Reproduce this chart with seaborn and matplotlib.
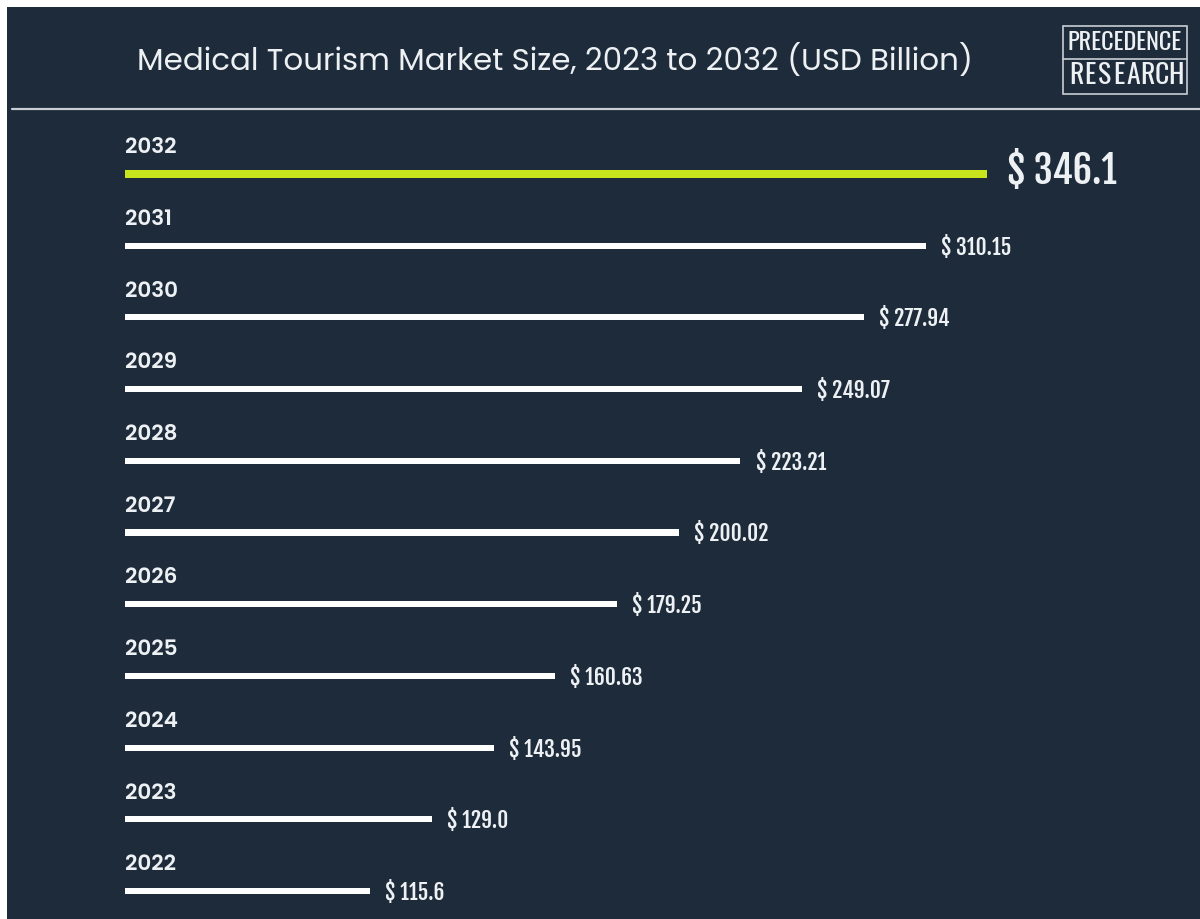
import numpy as np
import pandas as pd
import matplotlib
matplotlib.use("Agg")
import matplotlib.pyplot as plt
from matplotlib.patches import Rectangle
from matplotlib.lines import Line2D
from matplotlib import font_manager as fm
import seaborn as sns

# Market size by year, USD billion (newest first)
years = ["2032", "2031", "2030", "2029", "2028", "2027", "2026", "2025", "2024", "2023", "2022"]
market_size = [346.1, 310.15, 277.94, 249.07, 223.21, 200.02, 179.25, 160.63, 143.95, 129.0, 115.6]
value_labels = ["$ 346.1", "$ 310.15", "$ 277.94", "$ 249.07", "$ 223.21", "$ 200.02",
                "$ 179.25", "$ 160.63", "$ 143.95", "$ 129.0", "$ 115.6"]

title_text = "Medical Tourism Market Size, 2023 to 2032 (USD Billion)"
logo_lines = ["PRECEDENCE", "RESEARCH"]

BG = "#1d2b3b"
ACCENT = "#c8e41c"
TEXT = "#eef1f3"
RULE = "#c9ced4"


def static_font(families, weight, size):
    """Pick a static (non-variable) font file of the wanted weight."""
    for fam in families:
        for f in fm.fontManager.ttflist:
            if (f.name == fam and f.weight == weight and f.style == "normal"
                    and "[" not in f.fname):
                return fm.FontProperties(fname=f.fname, size=size)
    return fm.FontProperties(family="DejaVu Sans", weight=weight, size=size)


title_fp = static_font(["Montserrat", "Poppins", "Raleway"], 400, 22.2)
year_fp = static_font(["Montserrat", "Poppins", "Raleway"], 600, 15.5)
value_fp = fm.FontProperties(family=["Fjalla One", "Oswald", "DejaVu Sans"], size=15.5)
big_fp = fm.FontProperties(family=["Fjalla One", "Oswald", "DejaVu Sans"], size=27.5)
logo_top_fp = fm.FontProperties(family=["Oswald", "DejaVu Sans"], size=17.5)
logo_bot_fp = fm.FontProperties(family=["Oswald", "DejaVu Sans"], size=20)

df = pd.DataFrame({"year": years, "size": market_size})

sns.set_theme(style="white")
plt.rcParams["font.family"] = ["DejaVu Sans"]

W, H = 1200, 919
fig = plt.figure(figsize=(W / 100, H / 100), dpi=100, facecolor="white")

# dark panel inside a thin white frame on the top and left
fig.patches.append(Rectangle((7 / W, 0), 1 - 7 / W, 1 - 7 / H, transform=fig.transFigure,
                             facecolor=BG, edgecolor="none", zorder=-5))
# rule under the header
fig.lines.append(Line2D([12 / W, 1], [1 - 108.5 / H, 1 - 108.5 / H], transform=fig.transFigure,
                        color=RULE, lw=1.6, zorder=1))

fig.text(137 / W, 1 - 61 / H, title_text, color=TEXT, fontproperties=title_fp,
         ha="left", va="center")

# logo block
lx0, lx1, ly0, ly1, lmid = 1063, 1187, 26, 94, 58.5
fig.patches.append(Rectangle((lx0 / W, 1 - ly1 / H), (lx1 - lx0) / W, (ly1 - ly0) / H,
                             transform=fig.transFigure, facecolor="none", edgecolor=RULE, lw=1.2))
fig.lines.append(Line2D([lx0 / W, lx1 / W], [1 - lmid / H, 1 - lmid / H],
                        transform=fig.transFigure, color=RULE, lw=1.2))
fig.text((lx0 + lx1) / 2 / W, 1 - 42.5 / H, logo_lines[0], color=TEXT, fontproperties=logo_top_fp,
         ha="center", va="center")
# second logo line is letter-spaced across the box
letters = list(logo_lines[1])
centers = np.linspace(1076, 1176, len(letters))
for ch, cx in zip(letters, centers):
    fig.text(cx / W, 1 - 76 / H, ch, color=TEXT, fontproperties=logo_bot_fp,
             ha="center", va="center")

# bar area
ax_left, ax_top, ax_bottom = 125, 110, 919
ax = fig.add_axes([ax_left / W, 1 - ax_bottom / H, 1 - ax_left / W, (ax_bottom - ax_top) / H])
ax.set_facecolor("none")

palette = [ACCENT] + ["white"] * (len(years) - 1)
sns.barplot(data=df, x="size", y="year", hue="year", palette=palette, legend=False,
            orient="h", width=0.085, ax=ax, saturation=1, edgecolor="none")
ax.patches[0].set_height(0.1)
ax.patches[0].set_y(-0.05)

ax.set_xscale("log")
ax.set_xlim(74.8, 505)
ax.set_ylim(10.39, -0.893)
ax.axis("off")

for i, (yr, val, lab) in enumerate(zip(years, market_size, value_labels)):
    ax.text(0.0, i - 0.36, yr, transform=ax.get_yaxis_transform(), color=TEXT,
            fontproperties=year_fp, ha="left", va="center")
    big = i == 0
    ax.annotate(lab, xy=(val, i), xytext=(14 if big else 11, 2 if big else -1),
                textcoords="offset points", color=TEXT,
                fontproperties=big_fp if big else value_fp,
                ha="left", va="center")

fig.savefig("out.png", dpi=100, facecolor=fig.get_facecolor())
